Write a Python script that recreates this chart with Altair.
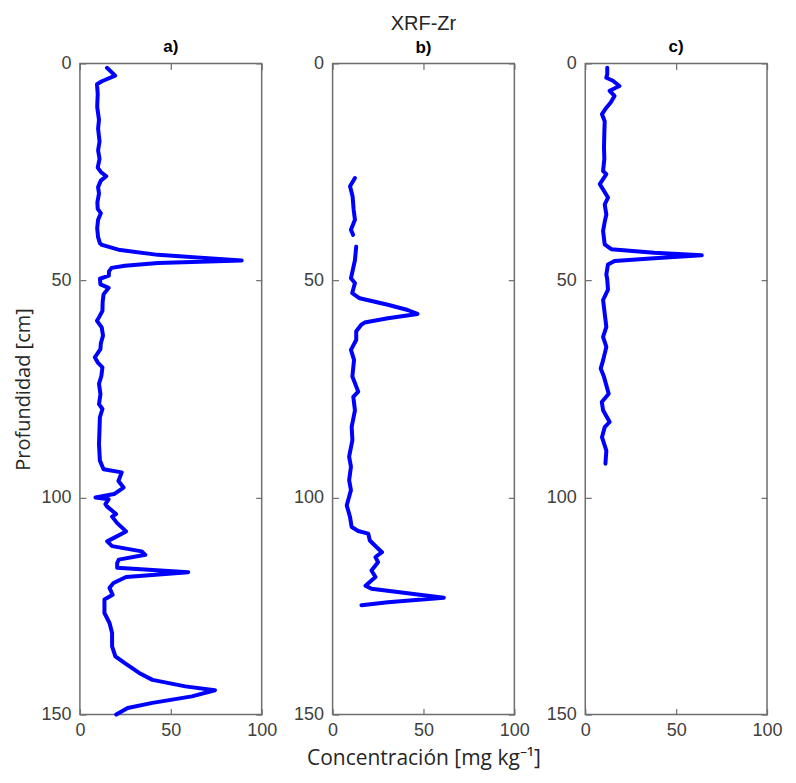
import altair as alt
import pandas as pd

# ---------------- data ----------------
depth_a = [1.0, 2.8, 4.1, 4.8, 7, 10, 13, 15, 18, 20, 22, 24, 25, 26, 27, 28.5, 30, 32, 33.5, 34.5,
           36, 38, 40, 41.4, 41.8, 42.9, 44.1, 45.4, 46.0, 46.6, 47.1, 47.9, 48.9, 49.6, 50.9, 51.7,
           53.2, 55, 57, 58.5, 59.3, 60.8, 62.7, 64.5, 65.8, 67.7, 69, 70, 72, 73.8, 76.2, 78.5, 79.6,
           81.5, 84, 87.7, 90, 91.5, 93.5, 94.2, 96.2, 97.7, 99.2, 100, 100.4, 101.5, 102.1, 103.8,
           104.4, 105.9, 107.8, 110.1, 111.2, 112.4, 113.2, 114.3, 115.1, 116.2, 117.2, 118.3, 119.7,
           120.8, 122.4, 123.5, 126.6, 128.9, 131.2, 134.3, 136.6, 138.1, 140.4, 142, 143.5, 144.4,
           145.8, 147.3, 148.5, 150]
zr_a = [14.9, 19.4, 12.1, 9.4, 9.8, 9.5, 10.5, 10.0, 10.8, 10.0, 10.8, 9.8, 11.5, 14.5, 11.5, 10.0,
        10.5, 9.6, 9.8, 11.5, 10.0, 9.5, 10.0, 11.0, 12.1, 21.2, 42.9, 89.0, 43.0, 24.8, 17.4, 16.0,
        15.9, 11.0, 11.3, 15.8, 13.0, 12.5, 12.4, 10.5, 9.4, 12.0, 12.7, 11.5, 11.3, 8.2, 10.0, 12.4,
        11.8, 10.5, 11.3, 10.5, 12.4, 11.0, 10.8, 10.5, 10.8, 11.0, 13.0, 23.0, 21.2, 24.0, 18.8, 8.6,
        15.8, 14.0, 15.0, 19.9, 17.7, 20.5, 25.4, 15.0, 17.7, 34.0, 36.0, 21.4, 20.5, 20.5, 59.6, 25.4,
        18.5, 16.3, 18.0, 13.5, 13.5, 16.3, 17.7, 17.7, 19.5, 24.5, 32.6, 39.9, 58.0, 74.3, 61.6, 39.9,
        26.3, 20.0]

depth_b1 = [26.4, 28.3, 30.6, 33.7, 36, 38.3, 39.5]
zr_b1 = [12.3, 9.6, 11.0, 11.6, 12.3, 10.1, 11.3]
depth_b2 = [42.2, 45.3, 49.5, 50.6, 52.9, 54.1, 55.6, 56.8, 57.7, 58.7, 59.7, 60.2, 61.7, 63.7, 66,
            68.3, 72.1, 75.6, 76.8, 79.9, 83.7, 86.8, 90.6, 92.9, 96, 98.3, 101.8, 104.5, 106.8,
            107.7, 108.3, 109.9, 111.4, 112.6, 113.7, 114.9, 116.8, 118.3, 120.3, 121, 123.1, 124.1,
            124.8]
zr_b2 = [13.0, 12.3, 10.1, 12.3, 10.8, 14.9, 30.4, 41.3, 46.7, 30.4, 17.6, 15.8, 13.0, 13.0, 10.1,
         11.8, 10.9, 14.1, 11.4, 12.3, 10.5, 10.9, 9.1, 10.1, 9.1, 10.1, 7.8, 9.6, 10.5, 14.1, 19.6,
         20.5, 24.1, 27.2, 23.6, 25.0, 21.4, 23.6, 18.1, 21.4, 61.2, 30.4, 15.9]

depth_c = [1.0, 2.5, 3.3, 4.0, 5.2, 6.3, 7.5, 9.0, 10.2, 11.7, 13.3, 16, 19.4, 22, 24.8, 25.5, 27.8,
           29.5, 30.9, 32.5, 34.8, 36.5, 38.6, 41.7, 42.8, 43.6, 44.2, 44.9, 45.5, 46.3, 48.6, 49.8,
           52.1, 54.5, 57.6, 60.7, 63, 65.3, 68.4, 70.3, 72.2, 76.1, 78, 79.9, 82.6, 83.8, 86.1, 89.2,
           92.2]
zr_c = [12.1, 12.1, 11.6, 15.2, 18.8, 13.4, 16.1, 14.0, 11.6, 9.2, 10.7, 10.5, 10.3, 10.5, 9.8, 11.6,
        8.0, 10.5, 12.5, 10.7, 11.6, 10.7, 9.8, 10.7, 14.3, 37.9, 64.1, 37.9, 16.1, 12.5, 11.6, 12.1,
        12.5, 9.8, 10.7, 11.6, 9.8, 11.6, 9.8, 8.5, 10.3, 12.9, 9.1, 9.8, 13.4, 10.7, 9.2, 11.6, 11.1]

x_ticks = [0, 50, 100]
y_ticks = [0, 50, 100, 150]
panel_labels = ["a)", "b)", "c)"]
main_title = "XRF-Zr"
x_title = "Concentración [mg kg⁻¹]"
y_title = "Profundidad [cm]"

# ---------------- styling ----------------
FONT = "Liberation Sans"
BLUE = "#0000FF"
BOX = "#6e6e6e"
LAB = "#404040"


def make_df(segments):
    rows = []
    for seg, (d, v) in enumerate(segments):
        for di, vi in zip(d, v):
            rows.append({"depth": di, "zr": vi, "seg": seg})
    return pd.DataFrame(rows)


def panel(df, title, show_ytitle=False, show_xtitle=False):
    xscale = alt.Scale(domain=[0, 100], nice=False, zero=False)
    yscale = alt.Scale(domain=[0, 150], reverse=True, nice=False, zero=False)

    xaxis_kw = dict(orient="bottom", values=x_ticks, offset=-6, tickSize=6, domain=False,
                    grid=False, labelFlush=False, labelPadding=7, labelFontSize=18,
                    labelFont=FONT, labelColor=LAB, tickColor=BOX, tickWidth=1.2,
                    titleFont="Open Sans", titleFontSize=21, titleFontWeight="normal",
                    titleColor="#262626", titlePadding=8)
    yaxis_kw = dict(orient="left", values=y_ticks, offset=-6, tickSize=6, domain=False,
                    grid=False, labelPadding=9, labelFontSize=18, labelFont=FONT,
                    labelColor=LAB, tickColor=BOX, tickWidth=1.2, titleFont="Open Sans",
                    titleFontSize=20, titleFontWeight="normal", titleColor="#262626",
                    titlePadding=7)
    xaxis = alt.Axis(title=x_title if show_xtitle else None, **xaxis_kw)
    yaxis = alt.Axis(title=y_title if show_ytitle else None, **yaxis_kw)

    base = alt.Chart(df)
    line = base.mark_line(color=BLUE, strokeWidth=4, strokeJoin="round", strokeCap="round").encode(
        x=alt.X("zr:Q", scale=xscale, axis=xaxis),
        y=alt.Y("depth:Q", scale=yscale, axis=yaxis),
        detail="seg:N",
        order=alt.Order("depth:Q"),
    )
    ghost = base.mark_line(opacity=0).encode(
        x=alt.X("zr:Q", scale=xscale,
                axis=alt.Axis(orient="top", values=x_ticks, offset=-6, tickSize=6, domain=False,
                              grid=False, labels=False, title=None, tickColor=BOX, tickWidth=1.2)),
        y=alt.Y("depth:Q", scale=yscale,
                axis=alt.Axis(orient="right", values=y_ticks, offset=-6, tickSize=6, domain=False,
                              grid=False, labels=False, title=None, tickColor=BOX, tickWidth=1.2)),
        detail="seg:N",
        order=alt.Order("depth:Q"),
    )
    return alt.layer(line, ghost).resolve_axis(x="independent", y="independent").properties(
        width=182, height=652, title=title)


t_a = alt.TitleParams(panel_labels[0], font=FONT, fontSize=17, fontWeight="bold", color="black",
                      anchor="middle", frame="group", offset=-2)
t_c = alt.TitleParams(panel_labels[2], font=FONT, fontSize=17, fontWeight="bold", color="black",
                      anchor="middle", frame="group", offset=-2)
t_b = alt.TitleParams(main_title, subtitle=panel_labels[1], font=FONT, fontSize=20,
                      fontWeight="normal", color="#262626", subtitleFont=FONT, subtitleFontSize=17,
                      subtitleFontWeight="bold", subtitleColor="black", subtitlePadding=6,
                      anchor="middle", frame="group", offset=-2)

pa = panel(make_df([(depth_a, zr_a)]), t_a, show_ytitle=True)
pb = panel(make_df([(depth_b1, zr_b1), (depth_b2, zr_b2)]), t_b, show_xtitle=True)
pc = panel(make_df([(depth_c, zr_c)]), t_c)

chart = alt.hconcat(pa, pb, pc, spacing=71, bounds="flush").properties(
    padding={"left": 5, "top": 5, "right": 5, "bottom": 5}
).configure(background="white").configure_view(stroke=BOX, strokeWidth=1.5)

chart.save("out.html", embed_options={"renderer": "svg", "actions": False})
